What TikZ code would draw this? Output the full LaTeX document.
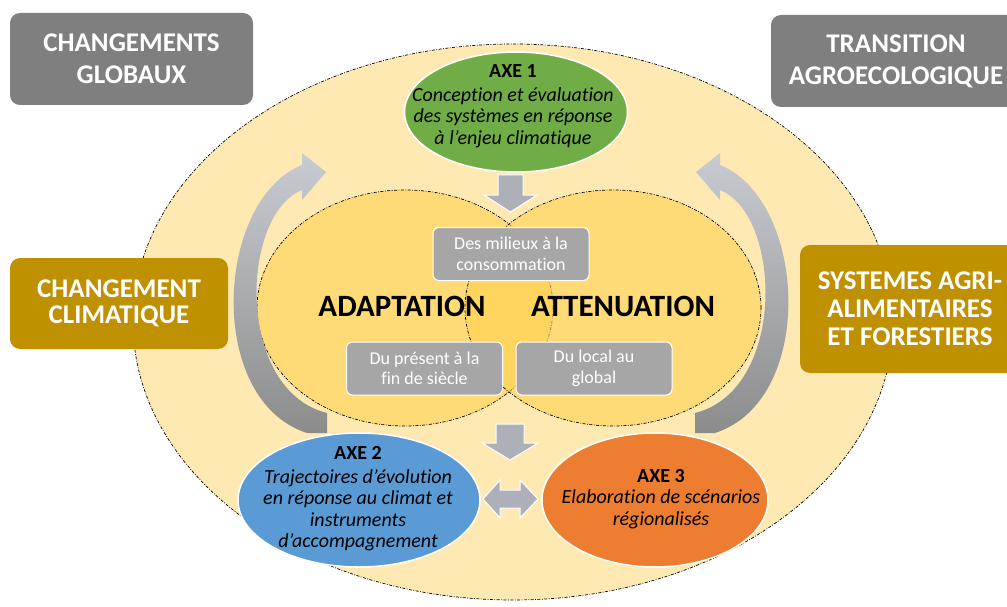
\documentclass[tikz,border=0pt]{standalone}
\usepackage{fontspec}
\setmainfont{Carlito}[Ligatures=NoCommon]
\usetikzlibrary{shapes.geometric}
\definecolor{bigfill}{RGB}{255,233,178}
\definecolor{innerfill}{RGB}{255,210,80}
\definecolor{axegreen}{RGB}{112,173,71}
\definecolor{axeblue}{RGB}{91,155,213}
\definecolor{axeorange}{RGB}{237,125,49}
\definecolor{goldbox}{RGB}{191,144,0}
\definecolor{darkgraybox}{RGB}{127,127,127}
\definecolor{lightgraybox}{RGB}{166,166,166}
\definecolor{arrowgray}{RGB}{173,176,185}
\definecolor{arrowlight}{RGB}{200,203,210}
\definecolor{arrowdark}{RGB}{140,140,140}
\begin{document}
\begin{tikzpicture}[x=1pt,y=-1pt,
 ddline/.style={draw=black, line width=0.7pt, dash pattern=on 3pt off 1.5pt on 0.8pt off 1.5pt},
 bigell/.style={ellipse, ddline, fill=bigfill, inner sep=0pt, minimum width=760pt, minimum height=556pt},
 innerell/.style={ellipse, ddline, fill=innerfill, fill opacity=0.6, inner sep=0pt, minimum width=296pt, minimum height=236pt},
 axeell/.style={ellipse, draw=white, line width=1.5pt, inner sep=0pt},
 axetext/.style={align=center, font=\fontsize{20}{21.5}\selectfont, text=black, inner sep=0pt},
 outerbox/.style={rounded corners=10pt, text=white, font=\bfseries\fontsize{27}{32}\selectfont, align=center, inner sep=0pt},
 smallbox/.style={rounded corners=6pt, fill=lightgraybox, draw=white, line width=1pt, text=white, align=center, font=\fontsize{18}{20.5}\selectfont, minimum width=156pt, minimum height=53pt, inner sep=0pt},
 bigword/.style={font=\bfseries\fontsize{31}{36}\selectfont, text=black, inner sep=0pt},
 blockarrow/.style={fill=arrowgray, draw=white, line width=1pt, line join=miter},
 curvedarrow/.style={top color=arrowlight, bottom color=arrowdark, draw=none},
]
\useasboundingbox (0,0) rectangle (1007,607);
\fill[white] (0,0) rectangle (1007,607);

% big ellipse
\node[bigell] (big) at (513,322) {};

% inner ellipses
\node[innerell] (adapt) at (405,308) {};
\node[innerell] (atten) at (613,308) {};

% curved arrows
\shade[curvedarrow] (307,433) .. controls (205,400) and (215,200) .. (302,165)
  -- (302,153) -- (326,172) -- (302,200) -- (302,190)
  .. controls (240,215) and (235,390) .. (327,413) -- (327,433) -- cycle;
\begin{scope}[shift={(1022,0)}, xscale=-1]
\shade[curvedarrow] (307,433) .. controls (205,400) and (215,200) .. (302,165)
  -- (302,153) -- (326,172) -- (302,200) -- (302,190)
  .. controls (240,215) and (235,390) .. (327,413) -- (327,433) -- cycle;
\end{scope}

% axes
\node[axeell, fill=axegreen, minimum width=223pt, minimum height=120pt] (axe1) at (516,112) {};
\node[axeell, fill=axeblue, minimum width=242pt, minimum height=134pt] (axe2) at (359,500) {};
\node[axeell, fill=axeorange, minimum width=226pt, minimum height=134pt] (axe3) at (655,500) {};

\node[axetext] (axe1t) at (513,106) {\textbf{AXE 1}\\[2pt]\textit{Conception et évaluation}\\\textit{des systèmes en réponse}\\\textit{à l’enjeu climatique}};
\node[axetext] (axe2t) at (358,499) {\textbf{AXE 2}\\[2pt]\textit{Trajectoires d’évolution}\\\textit{en réponse au climat et}\\\textit{instruments}\\\textit{d’accompagnement}};
\node[axetext] (axe3t) at (661,499) {\textbf{AXE 3}\\\textit{Elaboration de scénarios}\\\textit{régionalisés}};

% small boxes
\node[smallbox] (milieux) at (511,254) {Des milieux à la\\consommation};
\node[smallbox] (present) at (424.5,368.5) {Du présent à la\\fin de siècle};
\node[smallbox] (local) at (594,368.5) {Du local au\\global};

% big words
\node[bigword] (adaptw) at (402,306) {ADAPTATION};
\node[bigword] (attenw) at (623,306) {ATTENUATION};

% block arrows
\draw[blockarrow] (498,175) -- (523,175) -- (523,195) -- (537,195) -- (510.5,212) -- (484,195) -- (498,195) -- cycle;
\draw[blockarrow] (496,424) -- (524,424) -- (524,443) -- (538,443) -- (510,460) -- (482,443) -- (496,443) -- cycle;
\draw[blockarrow] (483,499) -- (500,480) -- (500,490) -- (520,490) -- (520,480) -- (538,499) -- (520,518) -- (520,508) -- (500,508) -- (500,518) -- cycle;

% outer boxes
\node[outerbox, fill=darkgraybox, minimum width=243pt, minimum height=92pt] (glob) at (131.5,59) {CHANGEMENTS\\GLOBAUX};
\node[outerbox, fill=darkgraybox, minimum width=250pt, minimum height=92pt] (trans) at (896,61) {TRANSITION\\AGROECOLOGIQUE};
\node[outerbox, fill=goldbox, minimum width=218pt, minimum height=91pt, font=\bfseries\fontsize{27}{25.5}\selectfont] (clim) at (119,303.5) {CHANGEMENT\\CLIMATIQUE};
\node[outerbox, fill=goldbox, minimum width=220pt, minimum height=128pt, font=\bfseries\fontsize{27}{28}\selectfont] (syst) at (910,309) {SYSTEMES AGRI-\\ALIMENTAIRES\\ET FORESTIERS};
\end{tikzpicture}
\end{document}
